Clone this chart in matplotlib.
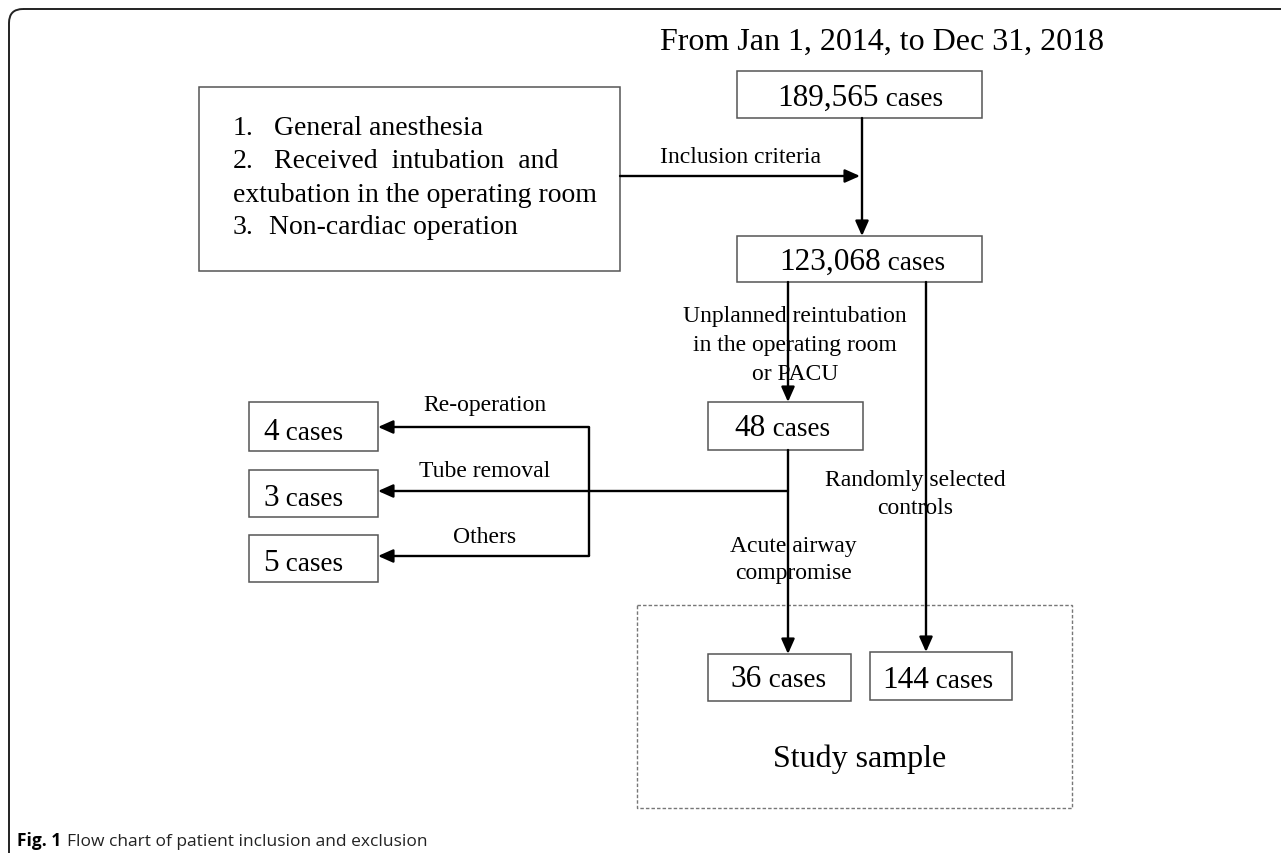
"""Flow chart of patient inclusion and exclusion."""

import matplotlib.pyplot as plt
from matplotlib import patches

# ---- content ----
period = 'From Jan 1, 2014, to Dec 31, 2018'
counts = ['189,565', '123,068', '48', '4', '3', '5', '36', '144']
count_unit = 'cases'
criteria_nums = ['1.', '2.', '', '3.']
criteria_text = ['General anesthesia', 'Received  intubation  and',
                 'extubation in the operating room', 'Non-cardiac operation']
exclusion_reasons = ['Re-operation', 'Tube removal', 'Others']
edge_labels = ['Inclusion criteria',
               'Unplanned reintubation\nin the operating room\nor PACU',
               'Randomly selected\ncontrols',
               'Acute airway\ncompromise']
sample_label = 'Study sample'
caption_bold = 'Fig. 1'
caption_text = 'Flow chart of patient inclusion and exclusion'

# ---- layout (pixel coordinates, y downwards) ----
# box: x0, y0, x1, y1 ; text centre x, baseline y
boxes = [(737, 72, 982, 119), (737, 237, 982, 283), (708, 403, 863, 451),
         (249, 403, 378, 452), (249, 471, 378, 518), (249, 536, 378, 583),
         (708, 655, 851, 702), (870, 653, 1012, 701)]
text_pos = [(860, 106), (862, 270), (782, 436), (303, 440), (303, 506),
            (303, 571), (778, 687), (938, 688)]

serif = 'Liberation Serif'
W, H = 1281, 854
fig = plt.figure(figsize=(W / 100, H / 100), dpi=100)
ax = fig.add_axes([0, 0, 1, 1])
ax.set_xlim(0, W)
ax.set_ylim(H, 0)
ax.axis('off')
renderer = fig.canvas.get_renderer()


def px_width(t):
    bb = t.get_window_extent(renderer=renderer)
    return bb.width  # 1 data unit == 1 pixel here


# outer rounded frame (open to the right and bottom)
frame = patches.FancyBboxPatch((9, 10), 1400, 1000,
                               boxstyle='round,pad=0,rounding_size=14',
                               fill=False, edgecolor='#222222', lw=1.4)
ax.add_patch(frame)


def box(x0, y0, x1, y1, **kw):
    ax.add_patch(patches.Rectangle((x0, y0), x1 - x0, y1 - y0, fill=False,
                                   edgecolor=kw.get('ec', '#555555'),
                                   lw=kw.get('lw', 1.1),
                                   linestyle=kw.get('ls', '-')))


def arrow(p0, p1):
    ax.annotate('', xy=p1, xytext=p0,
                arrowprops=dict(arrowstyle='-|>,head_length=0.45,head_width=0.2',
                                color='black', lw=1.7, mutation_scale=20,
                                shrinkA=0, shrinkB=0))


def line(xs, ys):
    ax.plot(xs, ys, color='black', lw=1.7, solid_capstyle='butt')


# title
ax.text(660, 50, period, family=serif, fontsize=23, va='baseline')

# count boxes: number slightly larger than the unit
for (x0, y0, x1, y1), (tx, ty), n in zip(boxes, text_pos, counts):
    box(x0, y0, x1, y1)
    t_num = ax.text(0, ty, n, family=serif, fontsize=22.5, va='baseline')
    t_unit = ax.text(0, ty, ' ' + count_unit, family=serif, fontsize=19.5,
                     va='baseline')
    w_num, w_unit = px_width(t_num), px_width(t_unit)
    start = tx - (w_num + w_unit) / 2
    t_num.set_x(start)
    t_unit.set_x(start + w_num)

# criteria box
box(199, 88, 620, 272)
crit_y = [135, 168, 202, 234]
crit_x = [274, 274, 233, 269]
for num, txt, y, x in zip(criteria_nums, criteria_text, crit_y, crit_x):
    if num:
        ax.text(233, y, num, family=serif, fontsize=20, va='baseline')
    ax.text(x, y, txt, family=serif, fontsize=20, va='baseline')

# study sample dashed box
box(637, 606, 1072, 809, ec='#777777', lw=1.0, ls=(0, (2.5, 1.5)))
ax.text(860, 767, sample_label, family=serif, fontsize=23, ha='center',
        va='baseline')

# arrows
arrow((862, 119), (862, 237))
arrow((620, 177), (860, 177))
arrow((788, 283), (788, 403))
arrow((926, 283), (926, 653))
arrow((788, 451), (788, 655))
arrow((788, 492), (378, 492))
line([589, 589], [428, 557])
arrow((589, 428), (378, 428))
arrow((589, 557), (378, 557))

# edge labels
lab_kw = dict(family=serif, fontsize=17, va='baseline', ha='center')
ax.text(660, 163, edge_labels[0], family=serif, fontsize=17, va='baseline')
for i, s in enumerate(edge_labels[1].split('\n')):
    ax.text(795, 322 + 29 * i, s, **lab_kw)
for i, s in enumerate(edge_labels[2].split('\n')):
    ax.text(915, 486 + 28 * i, s, **lab_kw)
for i, s in enumerate(edge_labels[3].split('\n')):
    ax.text(793, 552 + 27 * i, s, **lab_kw)
for s, y in zip(exclusion_reasons, [411, 477, 543]):
    ax.text(485, y, s, **lab_kw)

# caption
cap_font = ['Open Sans', 'DejaVu Sans']
t = ax.text(17, 846, caption_bold, family=cap_font, fontsize=12.5,
            fontweight='bold', va='baseline')
ax.text(17 + px_width(t) + 6, 846, caption_text, family=cap_font,
        fontsize=12.5, va='baseline', color='#222222')

fig.savefig('out.png', dpi=100)
